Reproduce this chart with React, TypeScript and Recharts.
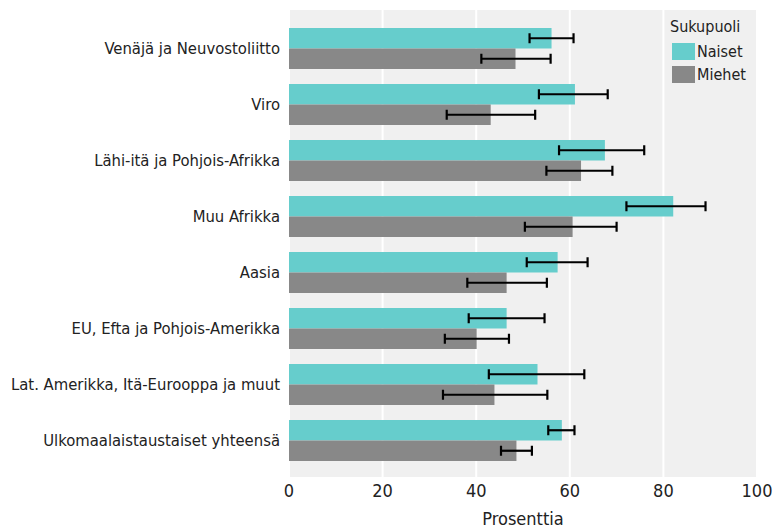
import React from 'react';
import { BarChart, Bar, XAxis, YAxis, CartesianGrid, ErrorBar } from 'recharts';

const categories = [
  'Venäjä ja Neuvostoliitto',
  'Viro',
  'Lähi-itä ja Pohjois-Afrikka',
  'Muu Afrikka',
  'Aasia',
  'EU, Efta ja Pohjois-Amerikka',
  'Lat. Amerikka, Itä-Eurooppa ja muut',
  'Ulkomaalaistaustaiset yhteensä',
];

const naiset = [56.1, 61.1, 67.5, 82.1, 57.4, 46.5, 53.1, 58.3];
const naisetLow = [51.4, 53.4, 57.7, 72.1, 50.8, 38.4, 42.7, 55.4];
const naisetHigh = [60.8, 68.1, 75.9, 89.0, 63.8, 54.6, 63.1, 61.0];

const miehet = [48.4, 43.1, 62.4, 60.6, 46.5, 40.1, 43.9, 48.6];
const miehetLow = [41.1, 33.7, 55.0, 50.4, 38.1, 33.3, 32.9, 45.3];
const miehetHigh = [55.9, 52.6, 69.1, 70.0, 55.1, 47.0, 55.2, 51.9];

const xTicks = [0, 20, 40, 60, 80, 100];

const TEAL = '#66CDCC';
const GREY = '#888888';
const FONT = '"DejaVu Sans Condensed", "Liberation Sans Narrow", sans-serif';

const data = categories.map((name, i) => ({
  name,
  naiset: naiset[i],
  naisetErr: [naiset[i] - naisetLow[i], naisetHigh[i] - naiset[i]],
  miehet: miehet[i],
  miehetErr: [miehet[i] - miehetLow[i], miehetHigh[i] - miehet[i]],
}));

const legendItems = [
  { label: 'Naiset', color: TEAL },
  { label: 'Miehet', color: GREY },
];

const LegendBox = () => (
  <div
    style={{
      position: 'absolute',
      left: 670,
      top: 17,
      fontFamily: FONT,
      fontSize: 16,
      color: '#222',
      lineHeight: '20px',
    }}
  >
    <div style={{ marginBottom: 3 }}>Sukupuoli</div>
    {legendItems.map((it) => (
      <div key={it.label} style={{ display: 'flex', alignItems: 'center', height: 23, marginLeft: 2 }}>
        <span style={{ width: 23, height: 17, background: it.color, display: 'inline-block', marginRight: 2 }} />
        <span>{it.label}</span>
      </div>
    ))}
  </div>
);

export default function App() {
  return (
    <div style={{ position: 'relative', width: 775, height: 532, background: '#fff' }}>
      <style>{'body{margin:0;}'}</style>
      <BarChart
        width={775}
        height={532}
        data={data}
        layout="vertical"
        margin={{ top: 10, right: 18, bottom: 0, left: 0 }}
        barGap={0}
        barSize={20.5}
      >
        <CartesianGrid horizontal={false} fill="#F0F0F0" stroke="#FFFFFF" strokeWidth={2} />
        <XAxis
          type="number"
          domain={[0, 100]}
          ticks={xTicks}
          axisLine={false}
          tickLine={false}
          tickSize={0}
          tickMargin={7}
          height={55}
          tick={{ fill: '#222', fontSize: 18, fontFamily: FONT }}
          label={{ value: 'Prosenttia', position: 'insideBottom', offset: 7, fill: '#222', fontSize: 18, fontFamily: FONT }}
        />
        <YAxis
          type="category"
          dataKey="name"
          width={289}
          padding={{ top: 10, bottom: 9 }}
          axisLine={false}
          tickLine={false}
          tickSize={0}
          tickMargin={9}
          interval={0}
          tick={{ fill: '#222', fontSize: 16.5, fontFamily: FONT }}
        />
        <Bar dataKey="naiset" name="Naiset" fill={TEAL} isAnimationActive={false}>
          <ErrorBar dataKey="naisetErr" direction="x" width={5} stroke="#000" strokeWidth={2.2} />
        </Bar>
        <Bar dataKey="miehet" name="Miehet" fill={GREY} isAnimationActive={false}>
          <ErrorBar dataKey="miehetErr" direction="x" width={5} stroke="#000" strokeWidth={2.2} />
        </Bar>
      </BarChart>
      <LegendBox />
    </div>
  );
}
